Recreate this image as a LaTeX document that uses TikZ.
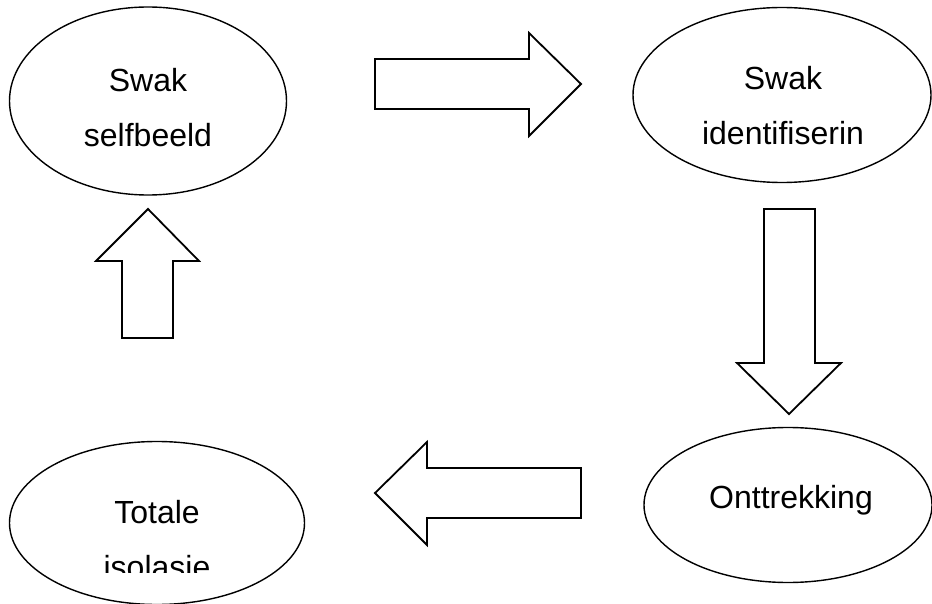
\documentclass[tikz,border=0pt]{standalone}
\usepackage{fontspec}
\setmainfont{Liberation Sans}
\usetikzlibrary{shapes.geometric}
\begin{document}
\begin{tikzpicture}[x=1pt,y=-1pt,
  oval/.style={draw,ellipse,line width=1.4pt,inner sep=0pt},
  lbl/.style={anchor=base,inner sep=0pt,font=\fontsize{32}{32}\selectfont},
  blockarrow/.style={draw,line width=1.8pt,line join=miter,fill=white}]
\useasboundingbox (0,0) rectangle (932,604);
% ellipses
\node[oval,minimum width=277pt,minimum height=188pt] (e1) at (148,101) {};
\node[oval,minimum width=298pt,minimum height=175pt] (e2) at (782,95) {};
\node[oval,minimum width=288pt,minimum height=155pt] (e3) at (788,505) {};
\node[oval,minimum width=295pt,minimum height=163pt] (e4) at (157,523) {};
% labels
\node[lbl] (t1a) at (148,92) {Swak};
\node[lbl] (t1b) at (148,147) {selfbeeld};
\node[lbl] (t2a) at (783,90) {Swak};
\node[lbl] (t2b) at (783,145) {identifiserin};
\node[lbl] (t3) at (791,508) {Onttrekking};
\node[lbl] (t4a) at (157,523) {Totale};
\begin{scope}
  \clip (0,0) rectangle (932,572);
  \node[lbl] (t4b) at (157,578) {isolasie};
\end{scope}
% block arrows
\draw[blockarrow] (375,59) -- (529,59) -- (529,33) -- (581,84) -- (529,136) -- (529,109) -- (375,109) -- cycle;
\draw[blockarrow] (764,209) -- (815,209) -- (815,363) -- (841,363) -- (789,414) -- (737,363) -- (764,363) -- cycle;
\draw[blockarrow] (581,468) -- (427,468) -- (427,442) -- (375,493) -- (427,545) -- (427,518) -- (581,518) -- cycle;
\draw[blockarrow] (122,338) -- (122,261) -- (96,261) -- (148,209) -- (199,261) -- (173,261) -- (173,338) -- cycle;
\end{tikzpicture}
\end{document}
